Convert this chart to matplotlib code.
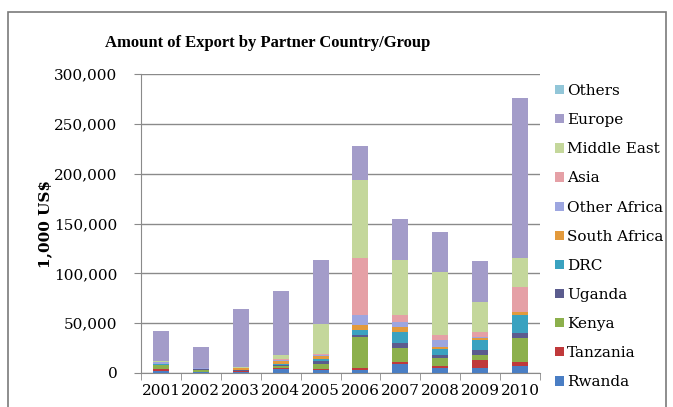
import numpy as np
import matplotlib
matplotlib.use("Agg")
import matplotlib.pyplot as plt
from matplotlib.patches import Rectangle
from matplotlib.ticker import FuncFormatter

years = ["2001", "2002", "2003", "2004", "2005", "2006", "2007", "2008", "2009", "2010"]

# values in 1,000 US$, bottom of the stack first
rwanda = [2500, 1000, 1500, 4000, 3000, 3000, 9000, 5000, 5000, 7000]
tanzania = [1500, 500, 500, 1000, 1500, 2000, 2000, 2500, 8000, 4000]
kenya = [4000, 2000, 500, 2000, 5000, 31000, 14000, 8000, 5000, 24000]
uganda = [500, 300, 300, 1000, 2500, 2000, 5000, 3000, 5000, 5000]
drc = [500, 300, 300, 1500, 2500, 5000, 11000, 6000, 10000, 18000]
south_africa = [500, 300, 1500, 2500, 3000, 5000, 5000, 2000, 2000, 3000]
other_africa = [1500, 500, 500, 1500, 1000, 10000, 5000, 7000, 1000, 0]
asia = [200, 100, 200, 500, 500, 57000, 7000, 5000, 5000, 25000]
middle_east = [500, 200, 300, 4000, 30000, 79000, 55000, 63000, 30000, 29000]
europe = [30300, 20800, 58400, 64000, 64000, 34000, 42000, 40000, 41000, 161000]
others = [0, 0, 0, 0, 0, 0, 0, 0, 0, 0]

series = [
    ("Rwanda", rwanda, "#4A7EC4"),
    ("Tanzania", tanzania, "#C0393B"),
    ("Kenya", kenya, "#8CB04C"),
    ("Uganda", uganda, "#5B5C8E"),
    ("DRC", drc, "#3AA2C0"),
    ("South Africa", south_africa, "#E39A3C"),
    ("Other Africa", other_africa, "#9DA6E0"),
    ("Asia", asia, "#E5A0A6"),
    ("Middle East", middle_east, "#C4D79B"),
    ("Europe", europe, "#A39CC9"),
    ("Others", others, "#92C6D8"),
]

plt.rcParams["font.family"] = "DejaVu Serif"

fig = plt.figure(figsize=(6.73, 4.07), dpi=100)
ax = fig.add_axes([141 / 673, 1 - 373 / 407, 399 / 673, 299 / 407])

x = np.arange(len(years))
bottom = np.zeros(len(years))
handles = []
for name, vals, col in series:
    b = ax.bar(x, vals, width=0.4, bottom=bottom, color=col, label=name, zorder=3)
    handles.append(b)
    bottom += np.array(vals)

ax.set_xlim(-0.5, len(years) - 0.5)
ax.set_ylim(0, 300000)
ax.set_yticks(np.arange(0, 300001, 50000))
ax.yaxis.set_major_formatter(FuncFormatter(lambda v, p: f"{int(v):,}"))
ax.grid(axis="y", color="#8a8a8a", linewidth=1, zorder=0)

ax.set_xticks(x)
ax.set_xticklabels(years)
ax.set_xticks(np.arange(-0.5, len(years), 1), minor=True)
ax.tick_params(axis="x", which="major", length=0, labelsize=11, pad=8)
ax.tick_params(axis="x", which="minor", length=5, color="#8a8a8a", direction="out")
ax.tick_params(axis="y", length=5, color="#8a8a8a", labelsize=11, pad=12)

for s in ["top", "right"]:
    ax.spines[s].set_visible(False)
for s in ["left", "bottom"]:
    ax.spines[s].set_color("#8a8a8a")

fig.text(268 / 673, 1 - 43 / 407, "Amount of Export by Partner Country/Group",
         ha="center", va="center", fontsize=12, fontweight="bold",
         family="Liberation Serif")
fig.text(45 / 673, 1 - 224 / 407, "1,000 US$", rotation=90,
         ha="center", va="center", fontsize=11, fontweight="bold")

fig.legend(handles[::-1], [s[0] for s in series][::-1],
           loc="upper left", bbox_to_anchor=(549 / 673, 1 - 78 / 407),
           frameon=False, fontsize=11, handlelength=0.55, handleheight=0.55,
           handletextpad=0.25, labelspacing=0.99, borderaxespad=0)

fig.patches.append(Rectangle((8 / 673, -0.02), 658 / 673, 1 - 12 / 407 + 0.02,
                             transform=fig.transFigure, fill=False,
                             edgecolor="#7a7a7a", linewidth=1.2))

fig.savefig("out.png", dpi=100)
